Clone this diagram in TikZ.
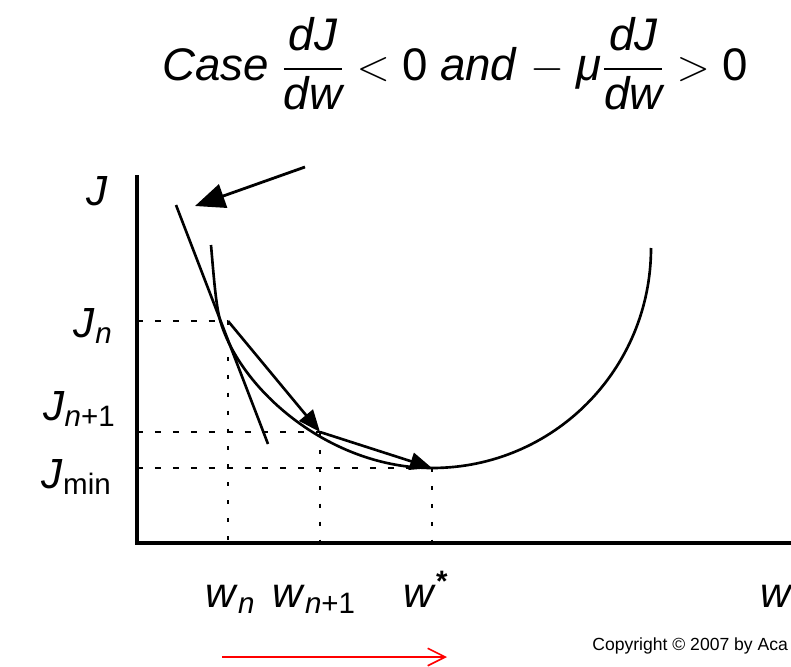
\documentclass[tikz,border=0pt]{standalone}
\usepackage{amsmath}
\usepackage{fontspec}
\setmainfont{Liberation Sans}
\usetikzlibrary{arrows.meta}
\tikzset{
    % Axes and cost curve
    axisline/.style={line width=1.9pt},
    curveline/.style={line width=1.5pt},
    % Guide lines to the axes
    hguide/.style={line width=1.7pt, dash pattern=on 3.4pt off 6.8pt},
    vguide/.style={line width=1.7pt, dash pattern=on 2.3pt off 7.9pt},
    % Arrows
    steparrow/.style={-{Triangle[length=12.5pt,width=10pt]}, line width=1.5pt},
    bigarrow/.style={-{Triangle[length=17pt,width=14pt]}, line width=1.6pt},
    redarrow/.style={-{Straight Barb[length=10pt,width=10pt]}, draw=red, line width=0.9pt},
    % Labels
    lbl/.style={font=\fontsize{24}{28}\selectfont, inner sep=0pt}
}
\begin{document}
\begin{tikzpicture}[x=0.02cm, y=-0.02cm]
    \useasboundingbox (0,0) rectangle (791,666);

    % Title
    \node[lbl, font=\fontsize{26}{30}\selectfont, anchor=base] (title) at (455,80)
        {\textit{Case} $\dfrac{\textit{dJ}}{\textit{dw}} < \text{0}$ \textit{and} $-$ \textit{μ}$\dfrac{\textit{dJ}}{\textit{dw}} > \text{0}$};

    % Points on the curve
    \coordinate (O) at (137,543);
    \coordinate (cTop) at (211,245);
    \coordinate (cN) at (220,320);
    \coordinate (Pn) at (228,321);
    \coordinate (Pn1) at (320,432);
    \coordinate (Pmin) at (432,468);
    \coordinate (cEnd) at (651,248);

    % Axes
    \draw[axisline] (137,175) |- (791,543);

    % Guide lines
    \draw[hguide] (O |- Pn) -- (Pn);
    \draw[hguide] (O |- Pn1) -- (Pn1);
    \draw[hguide] (O |- Pmin) -- (Pmin);
    \draw[vguide] (Pn) -- (Pn |- O);
    \draw[vguide] (Pn1) -- (Pn1 |- O);
    \draw[vguide] (Pmin) -- (Pmin |- O);

    % Cost curve
    \draw[curveline] (cTop) .. controls (214,280) and (216,305) .. (cN)
        .. controls (240,390) and (330,468) .. (Pmin)
        .. controls (553.5,468) and (651,369.5) .. (cEnd);

    % Tangent at w_n
    \coordinate (tanA) at (176,205);
    \coordinate (tanB) at (268,444);
    \draw[curveline] (tanA) -- (tanB);

    % Arrows
    \coordinate (bigS) at (305,167);
    \coordinate (bigT) at (195,206);
    \draw[bigarrow] (bigS) -- (bigT);
    \draw[steparrow] (Pn) -- (Pn1);
    \draw[steparrow] (Pn1) -- (Pmin);

    % Labels
    \node[lbl, anchor=base] (lJ) at (97,205) {\textit{J}};
    \node[lbl, anchor=base east] (lJn) at (113,337) {\textit{J}$_{\textit{n}}$};
    \node[lbl, anchor=base east] (lJn1) at (116,420) {\textit{J}$_{\textit{n}\text{+1}}$};
    \node[lbl, anchor=base east] (lJmin) at (112,488) {\textit{J}$_{\text{min}}$};
    \node[lbl, anchor=base west] (lwn) at (205,607) {\textit{w}$_{\textit{n}}$};
    \node[lbl, anchor=base west] (lwn1) at (272,607) {\textit{w}$_{\textit{n}\text{+1}}$};
    \node[lbl, anchor=base west] (lws) at (403,607) {\textit{w}$^{\textbf{*}}$};
    \node[lbl, anchor=base west] (lw) at (760,607) {\textit{w}};
    \node[font=\fontsize{10}{12}\selectfont, anchor=base west, inner sep=0pt] (copy) at (592,650) {Copyright © 2007 by Aca};

    % Direction of the step
    \coordinate (rA) at (222,657);
    \coordinate (rB) at (447,657);
    \draw[redarrow] (rA) -- (rB);
\end{tikzpicture}
\end{document}
